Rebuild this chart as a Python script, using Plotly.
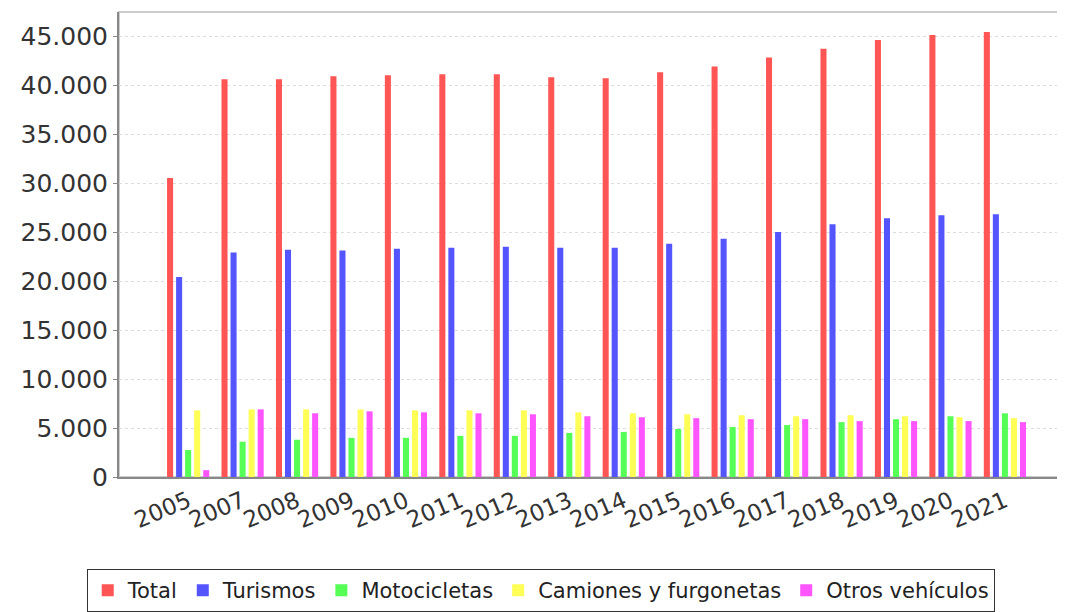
import plotly.graph_objects as go

years = ["2005", "2007", "2008", "2009", "2010", "2011", "2012", "2013",
         "2014", "2015", "2016", "2017", "2018", "2019", "2020", "2021"]

total = [30500, 40600, 40600, 40900, 41000, 41100, 41100, 40800,
         40700, 41300, 41900, 42800, 43700, 44600, 45100, 45400]
turismos = [20400, 22900, 23200, 23100, 23300, 23400, 23500, 23400,
            23400, 23800, 24300, 25000, 25800, 26400, 26700, 26800]
motocicletas = [2750, 3600, 3800, 4000, 4000, 4200, 4200, 4500,
                4600, 4900, 5100, 5300, 5600, 5900, 6200, 6500]
camiones = [6800, 6900, 6900, 6900, 6800, 6800, 6800, 6600,
            6500, 6400, 6300, 6200, 6300, 6200, 6100, 6000]
otros = [700, 6900, 6500, 6700, 6600, 6500, 6400, 6200,
         6100, 6000, 5900, 5900, 5700, 5700, 5700, 5600]

series_names = ["Total", "Turismos", "Motocicletas", "Camiones y furgonetas", "Otros vehículos"]
series_values = [total, turismos, motocicletas, camiones, otros]
colors = ["#FF5555", "#5555FF", "#55FF55", "#FFFF55", "#FF55FF"]

ytick_vals = [0, 5000, 10000, 15000, 20000, 25000, 30000, 35000, 40000, 45000]
ytick_text = ["0", "5.000", "10.000", "15.000", "20.000", "25.000",
              "30.000", "35.000", "40.000", "45.000"]

xpos = list(range(len(years)))

fig = go.Figure()
for name, vals, col in zip(series_names, series_values, colors):
    fig.add_trace(go.Bar(x=xpos, y=vals, name=name, marker=dict(color=col, line=dict(width=0))))

fig.update_layout(
    width=1057, height=604,
    barmode="group", bargap=0.17, bargroupgap=0.33,
    paper_bgcolor="white", plot_bgcolor="white",
    margin=dict(l=111, r=4, t=4, b=135),
    font=dict(family="DejaVu Sans", color="#333333"),
    showlegend=True,
    legend=dict(
        orientation="h", xref="container", yref="container",
        x=0.504, xanchor="center", y=0.071, yanchor="top",
        bordercolor="#333333", borderwidth=1,
        font=dict(size=21, color="#222222", family="DejaVu Sans"),
        itemwidth=30, tracegroupgap=0,
    ),
    xaxis=dict(
        range=[-1.27, 16.03],
        tickvals=xpos, ticktext=years, tickangle=-23,
        tickfont=dict(size=23, color="#333333"),
        showgrid=False, zeroline=False,
        showline=True, linecolor="#888888", linewidth=2,
        ticks="", fixedrange=True,
    ),
    yaxis=dict(
        range=[0, 47450],
        tickvals=ytick_vals, ticktext=ytick_text,
        tickfont=dict(size=25, color="#333333"),
        showgrid=True, gridcolor="#DDDDDD", griddash="dot", gridwidth=1,
        zeroline=False,
        showline=True, linecolor="#888888", linewidth=2,
        ticks="outside", ticklen=4, tickcolor="#888888",
    ),
    shapes=[dict(type="rect", xref="paper", yref="paper", x0=0, x1=1, y0=0, y1=1,
                 line=dict(color="#CCCCCC", width=2), layer="below")],
)

fig.write_html("out.html")
